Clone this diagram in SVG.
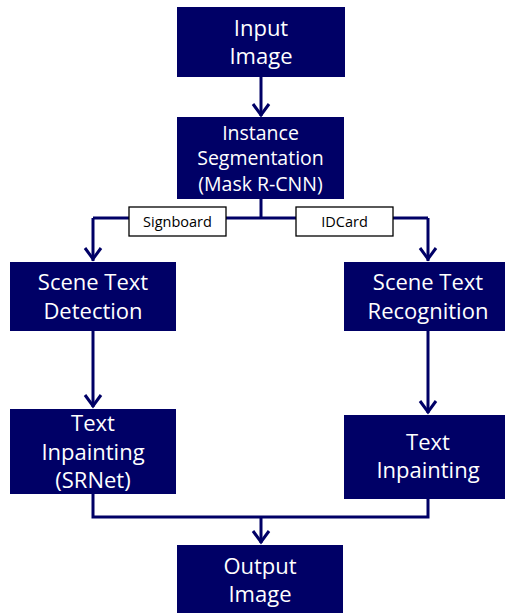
<svg xmlns="http://www.w3.org/2000/svg" width="506" height="613" viewBox="0 0 506 613">
<style>
.box{fill:#000066;}
.t{fill:#ffffff;font-family:"Open Sans","Noto Sans",sans-serif;text-anchor:middle;}
.big{font-size:22px;}
.mid{font-size:19.5px;}
.lbl{fill:#ffffff;stroke:#000000;stroke-width:1.3;}
.lt{fill:#000000;font-family:"Open Sans","Noto Sans",sans-serif;font-size:14.5px;text-anchor:middle;}
.c{fill:none;stroke:#000066;stroke-width:3;}
.ah{fill:none;stroke:#000066;stroke-width:3;}
</style>
<g id="connectors">
<path class="c" d="M261,77 V116"/>
<path class="c" d="M261,199 V218"/>
<path class="c" d="M93,218 H428"/>
<path class="c" d="M93,218 V261"/>
<path class="c" d="M428,218 V261"/>
<path class="c" d="M93,331 V407"/>
<path class="c" d="M428,331 V413"/>
<path class="c" d="M93,494 V517 H428 V499"/>
<path class="c" d="M261,517 V543"/>
<path class="ah" d="M253,104 L261,115 L269,104"/>
<path class="ah" d="M85,248 L93,259 L101,248"/>
<path class="ah" d="M420,248 L428,259 L436,248"/>
<path class="ah" d="M85,395 L93,406 L101,395"/>
<path class="ah" d="M420,401 L428,412 L436,401"/>
<path class="ah" d="M253,531 L261,542 L269,531"/>
</g>
<g id="lbl-signboard">
<rect class="lbl" x="129" y="207" width="97" height="29"/>
<text class="lt" x="177.5" y="226.5">Signboard</text>
</g>
<g id="lbl-idcard">
<rect class="lbl" x="296" y="207" width="97" height="29"/>
<text class="lt" x="344.5" y="226.5">IDCard</text>
</g>
<g id="input">
<rect class="box" x="177" y="7" width="168" height="70"/>
<text class="t big" x="261" y="36">Input</text>
<text class="t big" x="261" y="64">Image</text>
</g>
<g id="seg">
<rect class="box" x="177" y="117" width="167" height="82"/>
<text class="t mid" x="260.5" y="140">Instance</text>
<text class="t mid" x="260.5" y="165">Segmentation</text>
<text class="t mid" x="260.5" y="191">(Mask R-CNN)</text>
</g>
<g id="std">
<rect class="box" x="10" y="262" width="166" height="69"/>
<text class="t big" x="93" y="290">Scene Text</text>
<text class="t big" x="93" y="319">Detection</text>
</g>
<g id="str">
<rect class="box" x="344" y="262" width="161" height="69"/>
<text class="t big" x="428" y="290">Scene Text</text>
<text class="t big" x="428" y="319">Recognition</text>
</g>
<g id="ti-left">
<rect class="box" x="10" y="409" width="166" height="85"/>
<text class="t big" x="93" y="431">Text</text>
<text class="t big" x="93" y="460">Inpainting</text>
<text class="t big" x="93" y="488">(SRNet)</text>
</g>
<g id="ti-right">
<rect class="box" x="344" y="415" width="161" height="84"/>
<text class="t big" x="428" y="450">Text</text>
<text class="t big" x="428" y="478">Inpainting</text>
</g>
<g id="output">
<rect class="box" x="177" y="545" width="166" height="68"/>
<text class="t big" x="260" y="574">Output</text>
<text class="t big" x="260" y="602">Image</text>
</g>
</svg>
